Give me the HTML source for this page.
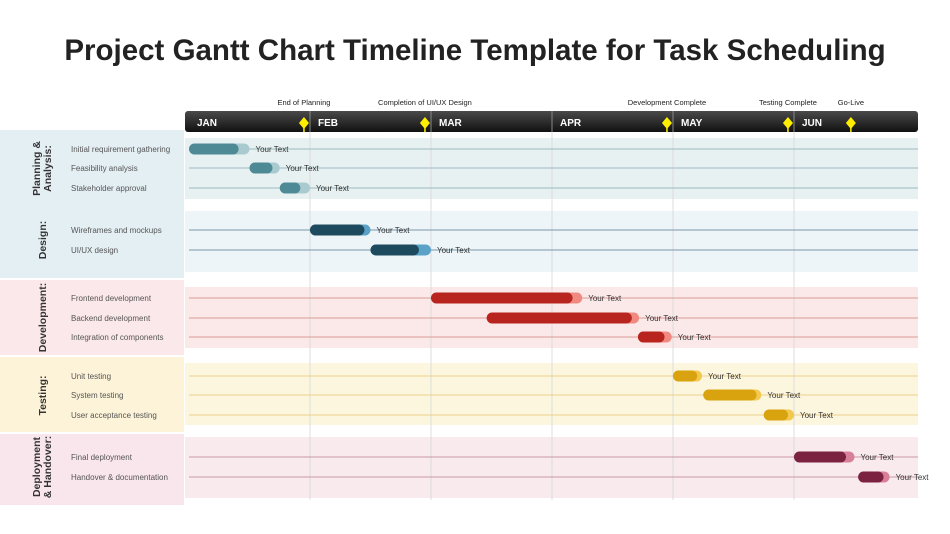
<!DOCTYPE html>
<html><head><meta charset="utf-8">
<style>
body{margin:0;background:#fff;width:950px;height:534px;overflow:hidden;font-family:"Liberation Sans",sans-serif}
svg{display:block}
</style></head>
<body>
<svg id="chart" width="950" height="534" xmlns="http://www.w3.org/2000/svg">
<defs>
<linearGradient id="hdr" x1="0" y1="0" x2="0" y2="1"><stop offset="0" stop-color="#4a4a4a"/><stop offset="1" stop-color="#111"/></linearGradient>
</defs>
<text x="475" y="60" text-anchor="middle" font-size="29.5" font-weight="bold" fill="#222">Project Gantt Chart Timeline Template for Task Scheduling</text>
<g id="bg"></g>
<g id="grid"></g>
<g id="hdrg"></g>
<g id="bars"></g>
</svg>
<script>
const months=["JAN","FEB","MAR","APR","MAY","JUN"];
const groups=["Planning & Analysis:","Design:","Development:","Testing:","Deployment & Handover:"];
const tasks=["Initial requirement gathering","Feasibility analysis","Stakeholder approval","Wireframes and mockups","UI/UX design","Frontend development","Backend development","Integration of components","Unit testing","System testing","User acceptance testing","Final deployment","Handover & documentation"];
const taskGroup=[0,0,0,1,1,2,2,2,3,3,3,4,4];
const taskStart=[0,0.50,0.75,1.0,1.50,2.0,2.46,3.71,4.0,4.25,4.75,5.0,5.53];
const taskMain=[0.41,0.19,0.17,0.45,0.40,1.17,1.20,0.22,0.20,0.44,0.20,0.43,0.21];
const taskEnd=[0.50,0.25,0.25,0.50,0.50,1.25,1.26,0.28,0.24,0.48,0.25,0.50,0.26];
const milestones=["End of Planning","Completion of UI/UX Design","Development Complete","Testing Complete","Go-Live"];
const milestoneAt=[0.95,1.95,3.95,4.95,5.47];
const barText="Your Text";

const X0=189, MW=121;
const x=m=>X0+m*MW;
const rowY=[149,168,188,230,250,298,318,337,376,395,415,457,477];
const bandTop=[138,211,287,363,437], bandBot=[199,272,348,425,498];
const panelTop=[130,130,280,357,434], panelBot=[278,278,355,432,505];
const dark=["#4e8a96","#1d4a5e","#b8251f","#d9a30f","#7a2240"];
const light=["#a9cbd0","#5aa2c8","#f08a80","#f2c84f","#d8809a"];
const band=["#e8f1f1","#eef5f9","#fbe9e9","#fdf6de","#f9eaee"];
const panel=["#e4eff4","#e4eff4","#fbe8ea","#fdf3d8","#f8e6ec"];
const line=["#9cbcc2","#7a97a8","#d99a98","#ecd08a","#c99aa8"];
const NS="http://www.w3.org/2000/svg";
function mk(p,tag,a,txt){const e=document.createElementNS(NS,tag);for(const k in a)e.setAttribute(k,a[k]);if(txt!=null)e.textContent=txt;p.appendChild(e);return e;}
const bg=document.getElementById('bg'),grid=document.getElementById('grid'),hg=document.getElementById('hdrg'),bars=document.getElementById('bars');
groups.forEach((g,i)=>{
  if(i!==1){const r=mk(bg,'rect',{x:0,y:panelTop[i],width:184,height:panelBot[i]-panelTop[i],fill:panel[i]});
  
  }
  const b=mk(bg,'rect',{x:185,y:bandTop[i],width:733,height:bandBot[i]-bandTop[i],fill:band[i]});
  
  
  const rows=rowY.filter((_,k)=>taskGroup[k]===i);
  const cy=(rows[0]+rows[rows.length-1])/2;
  const parts=g==="Planning & Analysis:"?["Planning &","Analysis:"]:g==="Deployment & Handover:"?["Deployment","& Handover:"]:[g];
  const t=mk(bg,'text',{transform:`translate(${parts.length>1?40:46},${cy}) rotate(-90)`,'text-anchor':'middle','font-size':10.5,'font-weight':'bold',fill:'#333'});
  
  
  parts.forEach((p,j)=>mk(t,'tspan',{x:0,dy:j===0?0:11},p));
});
months.forEach((m,i)=>{
  if(i===0)return;
  const l=mk(grid,'line',{x1:x(i),x2:x(i),y1:132,y2:500,stroke:'#dcdcdc','stroke-width':1});
  
  
});
const h=mk(hg,'rect',{x:185,y:111,width:733,height:21,rx:3,fill:'url(#hdr)'});


months.forEach((m,i)=>{
  if(i>0){const s=mk(hg,'line',{x1:x(i),x2:x(i),y1:111,y2:132,stroke:'#888'});
  
  }
  const t=mk(hg,'text',{x:x(i)+8,y:126,'font-size':10,'font-weight':'bold',fill:'#fff'},m);
  
  
});
milestones.forEach((m,i)=>{
  const mx=x(milestoneAt[i]);
  const t=mk(hg,'text',{x:mx,y:105,'text-anchor':'middle','font-size':7.5,fill:'#222'},m);
  
  
  const ln=mk(hg,'line',{x1:mx,x2:mx,y1:118,y2:132,stroke:'#ffee00','stroke-width':1.5});
  
  
  const d=mk(hg,'polygon',{points:`${mx},117 ${mx+5},123 ${mx},129 ${mx-5},123`,fill:'#ffee00'});
  
  
});
tasks.forEach((t,k)=>{
  const g=taskGroup[k],y=rowY[k];
  const ln=mk(bars,'line',{x1:189,x2:918,y1:y,y2:y,stroke:line[g],'stroke-width':1});
  
  
  const lb=mk(bars,'text',{x:71,y:y+3,'font-size':8,fill:'#555'},t);
  
  
  const xs=x(taskStart[k]),xe=x(taskStart[k]+taskEnd[k]),xm=x(taskStart[k]+taskMain[k]);
  const bl=mk(bars,'rect',{x:xs,y:y-5.5,width:xe-xs,height:11,rx:5.5,fill:light[g]});
  
  
  const bd=mk(bars,'rect',{x:xs,y:y-5.5,width:xm-xs,height:11,rx:5.5,fill:dark[g]});
  
  
  const bt=mk(bars,'text',{x:xe+6,y:y+3,'font-size':8,fill:'#333'},barText);
  
  
});
</script>
</body></html>
